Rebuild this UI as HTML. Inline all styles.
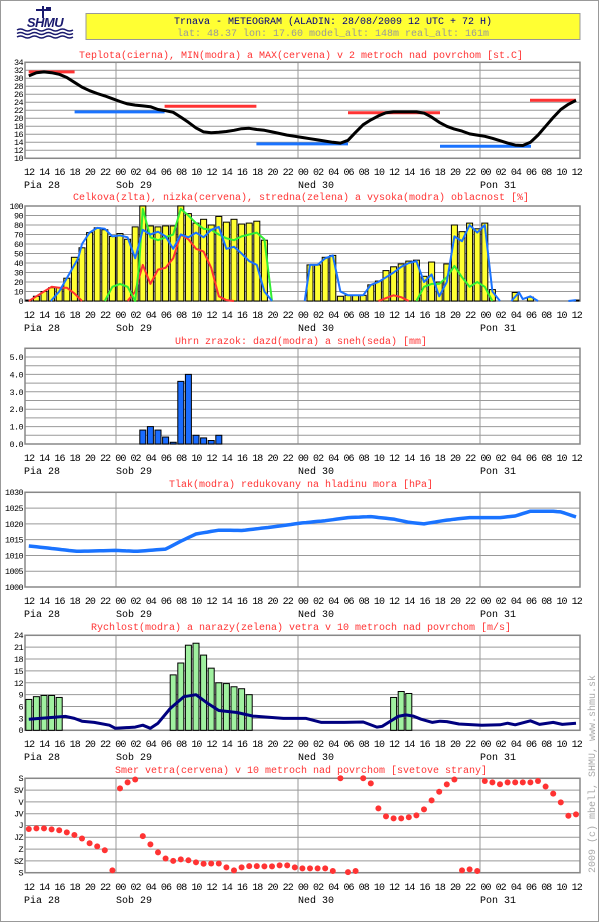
<!DOCTYPE html>
<html><head><meta charset="utf-8"><style>
html,body{margin:0;padding:0;background:#fff;}
svg{display:block;font-family:"Liberation Mono","DejaVu Sans Mono",monospace;}
.t{fill:#ff3333;font-size:10px;text-anchor:middle;}
.r{font-size:10px;letter-spacing:-0.93px;fill:#000;}
.y{font-size:8.5px;text-anchor:end;fill:#000;letter-spacing:-0.6px;}
</style></head><body>
<svg id="s" width="600" height="923" viewBox="0 0 600 923" xmlns="http://www.w3.org/2000/svg">
<rect x="0.5" y="0.5" width="598" height="921" fill="#fff" stroke="#999"/>
<!-- logo -->
<g fill="#1a1a6e">
<rect x="42" y="6" width="2" height="12"/><rect x="36" y="9" width="14" height="2"/><rect x="46" y="7" width="5" height="4"/>
<text x="45" y="27" font-family="Liberation Sans,sans-serif" font-weight="bold" font-style="italic" font-size="13" text-anchor="middle" letter-spacing="-0.5">SHMU</text>
</g>
<g stroke="#1a1a6e" stroke-width="1.5" fill="none">
<path d="M17 30 q3.5 -2 7 0 t7 0 t7 0 t7 0 t7 0 t7 0 t7 0 t7 0"/>
<path d="M17 33.5 q3.5 -2 7 0 t7 0 t7 0 t7 0 t7 0 t7 0 t7 0 t7 0"/>
<path d="M17 37 q3.5 -2 7 0 t7 0 t7 0 t7 0 t7 0 t7 0 t7 0 t7 0"/>
</g>
<rect x="86" y="13.5" width="494" height="26" fill="#ffff33" stroke="#999"/>
<text x="333" y="24" font-size="10" text-anchor="middle" fill="#000080">Trnava - METEOGRAM (ALADIN: 28/08/2009 12 UTC + 72 H)</text>
<text x="333" y="36" font-size="10" text-anchor="middle" fill="#999">lat: 48.37  lon: 17.60  model_alt: 148m  real_alt: 161m</text>

<text class="t" x="301" y="58">Teplota(cierna), MIN(modra) a MAX(cervena) v 2 metroch nad povrchom [st.C]</text>
<text class="t" x="301" y="200">Celkova(zlta), nizka(cervena), stredna(zelena) a vysoka(modra) oblacnost [%]</text>
<text class="t" x="301" y="344">Uhrn zrazok: dazd(modra) a sneh(seda) [mm]</text>
<text class="t" x="301" y="487">Tlak(modra) redukovany na hladinu mora [hPa]</text>
<text class="t" x="301" y="630">Rychlost(modra) a narazy(zelena) vetra v 10 metroch nad povrchom [m/s]</text>
<text class="t" x="301" y="773">Smer vetra(cervena) v 10 metroch nad povrchom [svetove strany]</text>

<g id="grids"></g>
<g id="data"></g>

<!-- time rows -->
<g class="r">
<text x="24" y="175" xml:space="preserve">12 14 16 18 20 22 00 02 04 06 08 10 12 14 16 18 20 22 00 02 04 06 08 10 12 14 16 18 20 22 00 02 04 06 08 10 12</text>
<text x="24" y="318" xml:space="preserve">12 14 16 18 20 22 00 02 04 06 08 10 12 14 16 18 20 22 00 02 04 06 08 10 12 14 16 18 20 22 00 02 04 06 08 10 12</text>
<text x="24" y="461" xml:space="preserve">12 14 16 18 20 22 00 02 04 06 08 10 12 14 16 18 20 22 00 02 04 06 08 10 12 14 16 18 20 22 00 02 04 06 08 10 12</text>
<text x="24" y="604" xml:space="preserve">12 14 16 18 20 22 00 02 04 06 08 10 12 14 16 18 20 22 00 02 04 06 08 10 12 14 16 18 20 22 00 02 04 06 08 10 12</text>
<text x="24" y="747" xml:space="preserve">12 14 16 18 20 22 00 02 04 06 08 10 12 14 16 18 20 22 00 02 04 06 08 10 12 14 16 18 20 22 00 02 04 06 08 10 12</text>
<text x="24" y="890" xml:space="preserve">12 14 16 18 20 22 00 02 04 06 08 10 12 14 16 18 20 22 00 02 04 06 08 10 12 14 16 18 20 22 00 02 04 06 08 10 12</text>
</g>
<g font-size="10" fill="#000">
<text x="24" y="188">Pia 28</text><text x="116" y="188">Sob 29</text><text x="298" y="188">Ned 30</text><text x="480" y="188">Pon 31</text>
<text x="24" y="331">Pia 28</text><text x="116" y="331">Sob 29</text><text x="298" y="331">Ned 30</text><text x="480" y="331">Pon 31</text>
<text x="24" y="474">Pia 28</text><text x="116" y="474">Sob 29</text><text x="298" y="474">Ned 30</text><text x="480" y="474">Pon 31</text>
<text x="24" y="617">Pia 28</text><text x="116" y="617">Sob 29</text><text x="298" y="617">Ned 30</text><text x="480" y="617">Pon 31</text>
<text x="24" y="760">Pia 28</text><text x="116" y="760">Sob 29</text><text x="298" y="760">Ned 30</text><text x="480" y="760">Pon 31</text>
<text x="24" y="903">Pia 28</text><text x="116" y="903">Sob 29</text><text x="298" y="903">Ned 30</text><text x="480" y="903">Pon 31</text>
</g>

<!-- y labels -->
<g class="y">
<text x="23" y="65">34</text><text x="23" y="73">32</text><text x="23" y="81">30</text><text x="23" y="89">28</text><text x="23" y="97">26</text><text x="23" y="105">24</text><text x="23" y="113">22</text><text x="23" y="121">20</text><text x="23" y="129">18</text><text x="23" y="137">16</text><text x="23" y="145">14</text><text x="23" y="153">12</text><text x="23" y="161">10</text>
<text x="23" y="209">100</text><text x="23" y="218.5">90</text><text x="23" y="228">80</text><text x="23" y="237.5">70</text><text x="23" y="247">60</text><text x="23" y="256.5">50</text><text x="23" y="266">40</text><text x="23" y="275.5">30</text><text x="23" y="285">20</text><text x="23" y="294.5">10</text><text x="23" y="304">0</text>
<text x="23" y="360">5.0</text><text x="23" y="377.4">4.0</text><text x="23" y="394.8">3.0</text><text x="23" y="412.2">2.0</text><text x="23" y="429.6">1.0</text><text x="23" y="447">0.0</text>
<text x="23" y="495">1030</text><text x="23" y="511">1025</text><text x="23" y="527">1020</text><text x="23" y="542.5">1015</text><text x="23" y="558.5">1010</text><text x="23" y="574">1005</text><text x="23" y="590">1000</text>
<text x="23" y="638">24</text><text x="23" y="650">21</text><text x="23" y="662">18</text><text x="23" y="674">15</text><text x="23" y="686">12</text><text x="23" y="697.5">9</text><text x="23" y="709.5">6</text><text x="23" y="721.5">3</text><text x="23" y="733">0</text>
<text x="23" y="781">S</text><text x="23" y="793">SV</text><text x="23" y="805">V</text><text x="23" y="816.5">JV</text><text x="23" y="828">J</text><text x="23" y="840">JZ</text><text x="23" y="852">Z</text><text x="23" y="864">SZ</text><text x="23" y="875.5">S</text>
</g>
<text transform="translate(595,873) rotate(-90)" font-size="10" fill="#aaa">2009 (c) mbell, SHMU, www.shmu.sk</text>
</svg>
<script>
(function(){
var NS="http://www.w3.org/2000/svg";
var G=document.getElementById("grids"),D=document.getElementById("data");
function el(p,n,a){var e=document.createElementNS(NS,n);for(var k in a)e.setAttribute(k,a[k]);p.appendChild(e);return e;}
var L=25,R=580;
function X(h){return 28.8+h*7.6;}
function panel(top,bot,lines){
  for(var i=0;i<lines.length;i++)el(G,"line",{x1:L,x2:R,y1:lines[i],y2:lines[i],stroke:"#999","stroke-width":1});
  [116,298,480].forEach(function(x){el(G,"line",{x1:x,x2:x,y1:top,y2:bot,stroke:"#999","stroke-width":1});});
  el(G,"rect",{x:L,y:top,width:R-L,height:bot-top,fill:"none",stroke:"#888","stroke-width":1.5});
}
function rng(a,b,s){var r=[];for(var v=a;v<=b+1e-9;v+=s)r.push(v);return r;}
// temp
var tY=function(v){return 62.3+(34-v)*4;};
panel(62.3,158.3,rng(10,34,2).map(tY));
var cY=function(v){return 301-v*0.95;};
panel(206,301,rng(0,100,10).map(cY));
var pY=function(v){return 444-v*17.4;};
panel(348.3,444,rng(0,5.5,0.5).map(pY));
var prY=function(v){return 492.3+(1030-v)*3.157;};
panel(492.3,587,rng(1000,1030,5).map(prY));
var wY=function(v){return 730.3-v*3.958;};
panel(635.3,730.3,rng(0,24,3).map(wY));
var dY=function(v){return 872.7-v*11.8;};
panel(778.3,872.7,rng(0,8,1).map(dY));

function interp(pts){var out=[];for(var i=0;i<pts.length-1;i++){var a=pts[i],b=pts[i+1];for(var h=a[0];h<b[0];h+=0.5){out.push([h,a[1]+(b[1]-a[1])*(h-a[0])/(b[0]-a[0])]);}}out.push(pts[pts.length-1]);return out;}
function line(pts,fy,col,w){var d="";pts.forEach(function(p,i){d+=(i?"L":"M")+X(p[0]).toFixed(1)+" "+fy(p[1]).toFixed(1);});el(D,"path",{d:d,fill:"none",stroke:col,"stroke-width":w,"stroke-linejoin":"round"});}
function seq(arr){return arr.map(function(v,i){return [i,v];});}

// temperature
var T=[30.6,31.4,31.6,31.4,31,30.2,29,27.8,26.9,26.2,25.6,24.9,24.2,23.6,23.3,23.1,22.9,22.2,21.9,21.5,20.3,19,17.6,16.6,16.4,16.5,16.7,17,17.4,17.5,17.2,17,16.6,16.2,15.8,15.5,15.2,14.9,14.6,14.3,14,13.8,14.5,16.5,18.4,19.6,20.6,21.4,21.6,21.6,21.6,21.6,21.3,20.3,19,18,17.3,16.8,16.1,15.8,15.5,15,14.4,13.8,13.3,13.2,14,15.8,18,20.2,22.2,23.5,24.5];
[[28.7,74.6,31.6,"#ff3333"],[74.6,164.6,21.6,"#1a73ff"],[164.6,256.4,23,"#ff3333"],[256.4,348,13.6,"#1a73ff"],[348,440,21.4,"#ff3333"],[440,531,13,"#1a73ff"],[530,576,24.5,"#ff3333"]].forEach(function(b){el(D,"line",{x1:b[0],x2:b[1],y1:tY(b[2]),y2:tY(b[2]),stroke:b[3],"stroke-width":3});});
line(seq(T),tY,"#000",3);

// cloud bars
var C={0:1,1:5,2:10,3:14,4:14,5:24,6:46,7:56,8:72,9:77,10:75,11:68,12:71,13:65,14:78,15:100,16:79,17:78,18:79,19:79,20:100,21:92,22:82,23:86,24:80,25:89,26:83,27:86,28:81,29:82,30:84,31:64,37:38,38:38,39:46,40:48,41:5,42:6,43:6,44:6,45:17,46:21,47:32,48:36,49:39,50:42,51:43,52:26,53:41,54:20,55:39,56:80,57:73,58:82,59:76,60:82,61:12,64:9,66:4,72:1};
for(var h in C){var v=C[h];el(D,"rect",{x:X(+h)-3,y:cY(v),width:6,height:v*0.95,fill:"#ffff33",stroke:"#000","stroke-width":1});}
line([[0,0],[1,5],[2,10],[3,15],[4,14],[5,14],[6,8],[7,0]],cY,"#ff3333",2);
line([[13,0],[14,10],[15,38],[16,18],[17,33],[18,35],[19,45],[20,70],[21,65],[22,55],[23,52],[24,35],[25,5],[26,1],[27,0]],cY,"#ff3333",2);
line([[46,0],[47,3],[48,6],[49,4],[50,0]],cY,"#ff3333",2);
line([[10,0],[11,15],[12,18],[13,15],[14,0],[14.5,36],[15,97],[16,67],[17,64],[18,67],[19,70],[20,97],[21,90],[22,82],[23,76],[24,75],[25,70],[26,66],[27,64],[28,68],[29,70],[30,72],[31,65],[32,0]],cY,"#33ee33",2);
line([[51,0],[52,15],[53,18],[54,18],[55,25],[56,37],[57,25],[58,15],[59,20],[60,15],[61,0]],cY,"#33ee33",2);
line([[2.9,0],[4,10],[5,24],[6.5,45],[7,60],[8,72],[9,77],[10,76],[11,68],[12,69],[13,67],[14,45],[15,75],[16,70],[17,73],[18,68],[19,55],[20,70],[21,67],[22,72],[23,67],[24,75],[25,78],[26,55],[27,57],[28,50],[29,42],[30,38],[31,10],[32,0]],cY,"#1a73ff",2);
line([[36.3,0],[37,38],[38,38],[39,45],[40,48],[41,10],[42,6],[43,6],[44,6],[45,17],[46,20],[47,25],[48,30],[49,36],[50,40],[51,42],[52,20],[53,28],[54,5],[55,20],[56,68],[57,63],[58,80],[59,72],[60,80],[61,10],[62,0]],cY,"#1a73ff",2);
line([[63.5,0],[64.5,9],[65,2],[66,5],[67,0]],cY,"#1a73ff",2);
line([[71,0],[72,1]],cY,"#1a73ff",2);

// precip
var P={15:0.8,16:1.0,17:0.8,18:0.4,19:0.1,20:3.6,21:4.0,22:0.5,23:0.35,24:0.2,25:0.5};
for(var h in P){var v=P[h];el(D,"rect",{x:X(+h)-3,y:pY(v),width:6,height:v*17.4,fill:"#1a6cff",stroke:"#000","stroke-width":1});}

// pressure
line(interp([[0,1013],[3.8,1012],[6.3,1011.3],[11.3,1011.6],[14.3,1011.3],[18,1012],[20,1014.5],[22,1016.8],[25,1018],[28,1017.9],[32,1019],[36,1020.3],[39,1021],[42,1022],[45,1022.3],[48,1021.5],[50,1020.5],[52,1020],[55,1021.2],[58,1022],[62,1022],[64,1022.5],[66,1024],[69,1024],[70,1023.8],[72,1022.2]]),prY,"#1a73ff",3.5);

// gusts
var W={0:7.8,1:8.5,2:8.8,3:8.8,4:8.3,19:14,20:17,21:21.5,22:22,23:19,24:15.7,25:12,26:11.8,27:11,28:10.5,29:9,48:8.3,49:9.8,50:9.3};
for(var h in W){var v=W[h];el(D,"rect",{x:X(+h)-3,y:wY(v),width:6,height:v*3.958,fill:"#a0f0a0",stroke:"#000","stroke-width":1});}
line([[0,2.8],[4.8,3.5],[6,3],[7,2.3],[8.6,2],[10.6,1.3],[11.4,0.5],[14,0.8],[15,1.3],[16,0.5],[17,1.8],[18.6,5.5],[20.4,8.5],[22,9],[23.4,7],[25,5],[27.4,4.5],[29.5,3.6],[33.5,3],[36.5,3],[38.5,2],[41.5,2],[44,2.1],[45.8,0.8],[46.5,1],[48.6,3.5],[49.6,3.9],[50.6,3.6],[51.6,2.8],[53.1,2],[54.1,2.3],[55,2.2],[56.6,1.6],[59.6,1.3],[62,1.4],[63,1.8],[64,1.4],[66,2.4],[67.2,1.5],[69,2],[70.2,1.5],[72,1.8]],wY,"#00007f",3);

// direction
var Dd=[3.7,3.76,3.76,3.67,3.6,3.42,3.2,2.9,2.5,2.23,1.9,0.2,7.15,7.65,7.9,3.1,2.4,1.72,1.2,1.0,1.13,1.05,0.88,0.76,0.78,0.78,0.45,0.2,0.45,0.56,0.56,0.54,0.54,0.62,0.62,0.45,0.37,0.37,0.37,0.37,0.14,8,0.05,0.14,8,7.57,5.45,4.77,4.6,4.6,4.7,4.86,5.37,6.13,6.86,7.49,7.9,0.2,0.28,0.14,7.77,7.65,7.5,7.65,7.65,7.65,7.65,7.77,7.3,6.7,5.96,4.83,4.94];
var skip={};
Dd.forEach(function(v,i){el(D,"circle",{cx:X(i),cy:dY(v),r:3,fill:"#ff3333"});});
})();
</script>
</body></html>
